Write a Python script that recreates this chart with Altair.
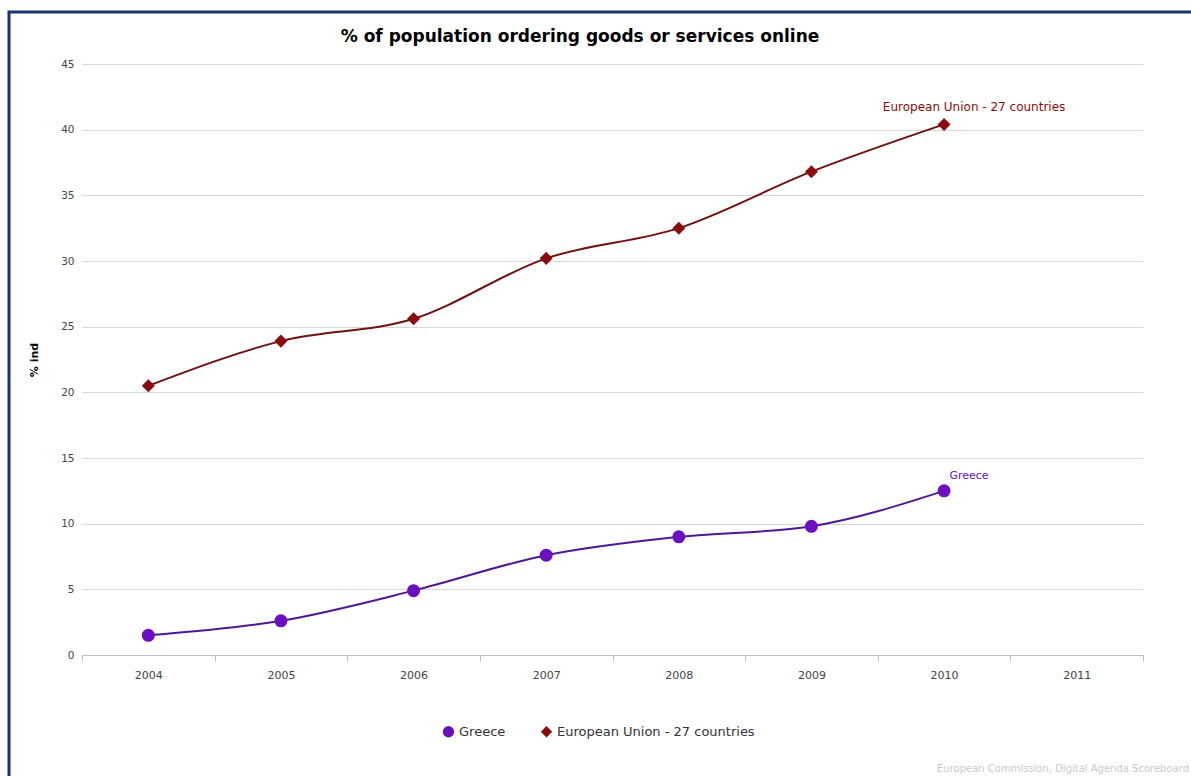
import altair as alt
import pandas as pd

years = [2004, 2005, 2006, 2007, 2008, 2009, 2010]
greece = [1.5, 2.6, 4.9, 7.6, 9.0, 9.8, 12.5]
eu27 = [20.5, 23.9, 25.6, 30.2, 32.5, 36.8, 40.4]
series_names = ["Greece", "European Union - 27 countries"]
series_colors = ["#6a10c0", "#8b0c0c"]
line_colors = ["#4e1890", "#6e1212"]
series_shapes = ["circle", "diamond"]
tick_bounds = [2003.5, 2004.5, 2005.5, 2006.5, 2007.5, 2008.5, 2009.5, 2010.5, 2011.5]
chart_title = "% of population ordering goods or services online"
footer_text = "European Commission, Digital Agenda Scoreboard"

rows = []
for y, g, e in zip(years, greece, eu27):
    rows.append({"year": y, "value": g, "series": series_names[0]})
    rows.append({"year": y, "value": e, "series": series_names[1]})
df = pd.DataFrame(rows)

W, H = 1061, 591
LEFT, TOP = 82, 64

xscale = alt.Scale(domain=[2003.5, 2011.5], nice=False, zero=False)
yscale = alt.Scale(domain=[0, 45], nice=False)
color_scale = alt.Scale(domain=series_names, range=series_colors)

x_enc = alt.X("year:Q", scale=xscale, axis=alt.Axis(
    values=tick_bounds, title=None, grid=False, labelFlush=False,
    labelExpr="datum.value < 2011 ? toString(datum.value + 0.5) : ''",
    labelOffset=W / 16, labelFontSize=11, labelColor="#444",
    labelFont="DejaVu Sans", labelPadding=8,
    domainColor="#c0c0c0", tickColor="#c0c0c0", tickSize=6,
))
y_enc = alt.Y("value:Q", scale=yscale, axis=alt.Axis(
    values=list(range(0, 50, 5)), title="% ind", titleFontSize=11,
    titleFont="DejaVu Sans", titleFontWeight="bold", titleColor="#000",
    titlePadding=21, labelFontSize=10.5, labelColor="#444", labelFont="DejaVu Sans",
    labelPadding=8, domain=False, ticks=False, grid=True, gridColor="#d6d6d6",
))

base = alt.Chart(df)

line_greece = base.transform_filter(alt.datum.series == series_names[0]).mark_line(
    interpolate="monotone", strokeWidth=2, color=line_colors[0]
).encode(x=x_enc, y=y_enc)
line_eu = base.transform_filter(alt.datum.series == series_names[1]).mark_line(
    interpolate="monotone", strokeWidth=2, color=line_colors[1]
).encode(x=x_enc, y=y_enc)

points = base.mark_point(filled=True, opacity=1, size=170).encode(
    x=x_enc, y=y_enc,
    color=alt.Color("series:N", scale=color_scale, sort=series_names, legend=alt.Legend(
        title=None, orient="none", direction="horizontal", legendX=360, legendY=661,
        labelFontSize=13, labelFont="DejaVu Sans", labelColor="#333",
        symbolSize=130, columnPadding=34, labelLimit=400,
    )),
    shape=alt.Shape("series:N", scale=alt.Scale(domain=series_names, range=series_shapes),
                    sort=series_names, legend=None),
)

last = df[df["year"] == years[-1]]
labels_greece = alt.Chart(last[last["series"] == series_names[0]]).mark_text(
    dx=25, dy=-15, fontSize=11, font="DejaVu Sans", color=series_colors[0]
).encode(x=alt.X("year:Q", scale=xscale), y=alt.Y("value:Q", scale=yscale), text="series:N")
labels_eu = alt.Chart(last[last["series"] == series_names[1]]).mark_text(
    dx=30, dy=-17, fontSize=12, font="DejaVu Sans", color=series_colors[1]
).encode(x=alt.X("year:Q", scale=xscale), y=alt.Y("value:Q", scale=yscale), text="series:N")

frame_df = pd.DataFrame({"k": [0]})
frame = alt.Chart(frame_df).mark_rect(fill=None, stroke="#1c3170", strokeWidth=3).encode(
    x=alt.value(9 - LEFT), x2=alt.value(1191 - LEFT + 20),
    y=alt.value(12 - TOP), y2=alt.value(776 - TOP + 20),
)
title_mark = alt.Chart(pd.DataFrame({"t": [chart_title]})).mark_text(
    align="center", baseline="middle", fontSize=17, font="DejaVu Sans",
    fontWeight="bold", color="#000"
).encode(x=alt.value(580 - LEFT), y=alt.value(37 - TOP), text="t:N")
footer = alt.Chart(pd.DataFrame({"t": [footer_text]})).mark_text(
    align="right", baseline="bottom", fontSize=10, font="DejaVu Sans", color="#c8c8c8"
).encode(x=alt.value(1191 - LEFT - 2), y=alt.value(776 - TOP - 2), text="t:N")

chart = alt.layer(
    line_greece, line_eu, points, labels_greece, labels_eu, frame, title_mark, footer
).properties(
    width=W, height=H,
    autosize=alt.AutoSizeParams(type="none"),
    padding={"left": LEFT, "top": TOP, "right": 1191 - LEFT - W, "bottom": 776 - TOP - H},
).configure(background="white", view=alt.ViewConfig(stroke=None))

chart.save("out.html", embed_options={"renderer": "svg", "actions": False})
